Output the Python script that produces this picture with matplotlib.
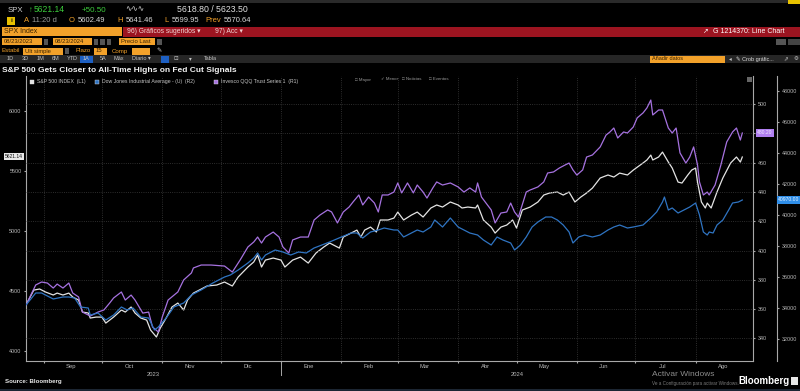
import datetime as dt

import matplotlib
matplotlib.use("Agg")
import matplotlib.dates as mdates
import matplotlib.pyplot as plt
import pandas as pd
from matplotlib.lines import Line2D
from matplotlib.patches import Rectangle
from matplotlib.ticker import FuncFormatter, NullFormatter

plt.rcParams["font.family"] = ["Liberation Sans", "DejaVu Sans"]

# --- data -------------------------------------------------------------------
SPX_DATES = [
    "2023-08-23", "2023-08-27", "2023-08-30", "2023-09-02", "2023-09-06", "2023-09-08",
    "2023-09-11", "2023-09-14", "2023-09-16", "2023-09-19", "2023-09-21", "2023-09-24",
    "2023-09-25", "2023-09-28", "2023-10-01", "2023-10-03", "2023-10-05", "2023-10-07",
    "2023-10-11", "2023-10-13", "2023-10-16", "2023-10-18", "2023-10-21", "2023-10-24",
    "2023-10-26", "2023-10-29", "2023-10-31", "2023-11-03", "2023-11-06", "2023-11-09",
    "2023-11-12", "2023-11-14", "2023-11-17", "2023-11-20", "2023-11-24", "2023-11-29",
    "2023-12-03", "2023-12-07", "2023-12-10", "2023-12-15", "2023-12-18", "2023-12-20",
    "2023-12-22", "2023-12-24", "2023-12-28", "2024-01-01", "2024-01-03", "2024-01-07",
    "2024-01-11", "2024-01-15", "2024-01-19", "2024-01-23", "2024-01-26", "2024-01-31",
    "2024-02-02", "2024-02-06", "2024-02-09", "2024-02-11", "2024-02-13", "2024-02-16",
    "2024-02-19", "2024-02-21", "2024-02-25", "2024-02-28", "2024-03-01", "2024-03-04",
    "2024-03-08", "2024-03-11", "2024-03-14", "2024-03-18", "2024-03-21", "2024-03-24",
    "2024-03-28", "2024-04-01", "2024-04-03", "2024-04-06", "2024-04-10", "2024-04-11",
    "2024-04-14", "2024-04-18", "2024-04-20", "2024-04-23", "2024-04-26", "2024-04-29",
    "2024-05-01", "2024-05-04", "2024-05-08", "2024-05-12", "2024-05-15", "2024-05-18",
    "2024-05-22", "2024-05-25", "2024-05-28", "2024-05-31", "2024-06-03", "2024-06-06",
    "2024-06-09", "2024-06-13", "2024-06-17", "2024-06-20", "2024-06-23", "2024-06-27",
    "2024-06-30", "2024-07-05", "2024-07-07", "2024-07-09", "2024-07-10", "2024-07-13",
    "2024-07-15", "2024-07-18", "2024-07-20", "2024-07-23", "2024-07-25", "2024-07-28",
    "2024-07-30", "2024-08-01", "2024-08-02", "2024-08-04", "2024-08-06", "2024-08-07",
    "2024-08-09", "2024-08-12", "2024-08-15", "2024-08-19", "2024-08-22", "2024-08-24",
    "2024-08-25",
]
SPX = [
    4383, 4508, 4517, 4492, 4467, 4483, 4467, 4483, 4450, 4425, 4325, 4317,
    4275, 4283, 4283, 4233, 4258, 4283, 4342, 4325, 4367, 4317, 4275, 4258,
    4175, 4117, 4192, 4275, 4367, 4400, 4342, 4425, 4483, 4508, 4542, 4550,
    4575, 4542, 4617, 4700, 4742, 4800, 4700, 4758, 4775, 4758, 4700, 4758,
    4783, 4733, 4817, 4867, 4900, 4858, 4950, 4983, 5008, 4950, 5008, 5033,
    4992, 5092, 5092, 5108, 5158, 5092, 5133, 5158, 5117, 5192, 5217, 5200,
    5242, 5217, 5192, 5200, 5192, 5217, 5092, 5033, 4983, 5033, 5050, 5092,
    5025, 5175, 5200, 5242, 5300, 5317, 5325, 5300, 5325, 5242, 5283, 5317,
    5358, 5442, 5467, 5450, 5483, 5467, 5508, 5567, 5592, 5633, 5592, 5617,
    5658, 5575, 5525, 5408, 5400, 5467, 5508, 5525, 5408, 5242, 5192, 5233,
    5192, 5325, 5442, 5567, 5617, 5575, 5617,
]

QQQ_DATES = [
    "2023-08-23", "2023-08-28", "2023-08-31", "2023-09-03", "2023-09-06", "2023-09-08",
    "2023-09-11", "2023-09-14", "2023-09-16", "2023-09-19", "2023-09-21", "2023-09-25",
    "2023-09-29", "2023-10-02", "2023-10-05", "2023-10-07", "2023-10-11", "2023-10-13",
    "2023-10-16", "2023-10-18", "2023-10-22", "2023-10-25", "2023-10-27", "2023-10-30",
    "2023-11-01", "2023-11-04", "2023-11-09", "2023-11-12", "2023-11-16", "2023-11-17",
    "2023-11-21", "2023-11-26", "2023-12-03", "2023-12-07", "2023-12-11", "2023-12-15",
    "2023-12-18", "2023-12-20", "2023-12-22", "2023-12-24", "2023-12-28", "2023-12-31",
    "2024-01-02", "2024-01-05", "2024-01-07", "2024-01-11", "2024-01-15", "2024-01-18",
    "2024-01-21", "2024-01-25", "2024-01-27", "2024-01-30", "2024-02-02", "2024-02-05",
    "2024-02-07", "2024-02-10", "2024-02-12", "2024-02-15", "2024-02-18", "2024-02-20",
    "2024-02-22", "2024-02-25", "2024-02-28", "2024-03-01", "2024-03-03", "2024-03-06",
    "2024-03-09", "2024-03-11", "2024-03-14", "2024-03-16", "2024-03-19", "2024-03-21",
    "2024-03-24", "2024-03-28", "2024-04-01", "2024-04-04", "2024-04-07", "2024-04-10",
    "2024-04-11", "2024-04-13", "2024-04-18", "2024-04-20", "2024-04-23", "2024-04-26",
    "2024-04-28", "2024-04-30", "2024-05-02", "2024-05-06", "2024-05-08", "2024-05-12",
    "2024-05-15", "2024-05-17", "2024-05-20", "2024-05-23", "2024-05-26", "2024-05-28",
    "2024-05-30", "2024-06-01", "2024-06-04", "2024-06-06", "2024-06-09", "2024-06-13",
    "2024-06-16", "2024-06-18", "2024-06-20", "2024-06-22", "2024-06-25", "2024-06-27",
    "2024-06-30", "2024-07-02", "2024-07-05", "2024-07-07", "2024-07-09", "2024-07-10",
    "2024-07-13", "2024-07-15", "2024-07-18", "2024-07-20", "2024-07-22", "2024-07-24",
    "2024-07-27", "2024-07-29", "2024-07-31", "2024-08-02", "2024-08-03", "2024-08-05",
    "2024-08-07", "2024-08-08", "2024-08-11", "2024-08-14", "2024-08-17", "2024-08-20",
    "2024-08-22", "2024-08-24", "2024-08-25",
]
QQQ = [
    362.8, 376.5, 378.5, 377.8, 374.4, 377.1, 374.4, 377.8, 371.0, 368.3, 358.0, 355.3,
    358.0, 359.4, 364.2, 367.6, 371.7, 366.2, 369.6, 366.2, 357.3, 358.0, 347.8, 344.4,
    354.6, 366.2, 371.7, 379.9, 384.7, 388.1, 390.1, 390.1, 389.4, 385.3, 393.5, 402.4,
    405.8, 409.2, 405.1, 409.2, 412.6, 409.2, 402.4, 398.3, 407.2, 409.2, 409.2, 420.8,
    424.2, 427.7, 426.3, 418.8, 426.3, 429.7, 433.1, 437.9, 431.1, 436.5, 432.4, 426.3,
    437.9, 437.9, 439.9, 446.1, 439.3, 446.1, 439.3, 444.7, 439.9, 435.8, 442.7, 446.8,
    444.7, 446.1, 443.4, 439.9, 442.7, 439.9, 446.1, 436.5, 427.7, 418.8, 425.6, 426.3,
    432.4, 426.3, 422.9, 439.9, 441.3, 443.4, 446.8, 452.9, 453.6, 456.3, 458.4, 459.7,
    455.0, 451.5, 455.0, 463.8, 465.2, 470.7, 478.8, 480.9, 483.6, 476.8, 480.9, 480.2,
    484.3, 490.5, 493.9, 497.3, 502.7, 492.5, 495.9, 495.9, 483.6, 480.2, 483.6, 466.6,
    459.7, 463.8, 470.7, 458.4, 446.8, 437.9, 439.9, 437.9, 444.7, 458.4, 474.1, 480.9,
    483.6, 475.4, 480.2,
]

DJI_DATES = [
    "2023-08-23", "2023-08-28", "2023-08-31", "2023-09-03", "2023-09-06", "2023-09-11",
    "2023-09-14", "2023-09-17", "2023-09-20", "2023-09-24", "2023-09-25", "2023-09-29",
    "2023-10-03", "2023-10-07", "2023-10-11", "2023-10-14", "2023-10-17", "2023-10-21",
    "2023-10-25", "2023-10-28", "2023-10-30", "2023-11-03", "2023-11-07", "2023-11-12",
    "2023-11-16", "2023-11-21", "2023-11-27", "2023-12-03", "2023-12-06", "2023-12-10",
    "2023-12-15", "2023-12-18", "2023-12-20", "2023-12-22", "2023-12-24", "2023-12-29",
    "2024-01-02", "2024-01-06", "2024-01-10", "2024-01-14", "2024-01-18", "2024-01-22",
    "2024-01-26", "2024-02-01", "2024-02-06", "2024-02-09", "2024-02-12", "2024-02-16",
    "2024-02-20", "2024-02-23", "2024-02-28", "2024-03-01", "2024-03-04", "2024-03-08",
    "2024-03-11", "2024-03-14", "2024-03-18", "2024-03-20", "2024-03-24", "2024-03-28",
    "2024-04-01", "2024-04-04", "2024-04-07", "2024-04-11", "2024-04-14", "2024-04-18",
    "2024-04-21", "2024-04-24", "2024-04-28", "2024-04-30", "2024-05-03", "2024-05-06",
    "2024-05-09", "2024-05-12", "2024-05-16", "2024-05-19", "2024-05-22", "2024-05-25",
    "2024-05-28", "2024-05-30", "2024-06-02", "2024-06-05", "2024-06-09", "2024-06-13",
    "2024-06-17", "2024-06-20", "2024-06-23", "2024-06-27", "2024-06-30", "2024-07-05",
    "2024-07-09", "2024-07-12", "2024-07-15", "2024-07-16", "2024-07-18", "2024-07-20",
    "2024-07-23", "2024-07-26", "2024-07-29", "2024-08-01", "2024-08-03", "2024-08-05",
    "2024-08-07", "2024-08-08", "2024-08-10", "2024-08-12", "2024-08-15", "2024-08-18",
    "2024-08-20", "2024-08-23", "2024-08-25",
]
DJI = [
    34177, 34953, 34953, 34759, 34565, 34694, 34694, 34629, 34047, 33982, 33529, 33659,
    33206, 33529, 34047, 33853, 33982, 33400, 33335, 32559, 32753, 33335, 34047, 34306,
    34823, 35147, 35600, 35988, 36117, 36441, 36894, 37217, 37541, 37088, 37411, 37735,
    37606, 37411, 37606, 37541, 37864, 38058, 38253, 38576, 38835, 38835, 38511, 38900,
    39029, 39158, 39029, 39029, 38576, 38835, 39029, 38900, 39223, 39676, 39223, 39805,
    39223, 39029, 38835, 38705, 38382, 38058, 38576, 38382, 38188, 37735, 38058, 38576,
    39223, 39547, 39870, 39870, 39676, 39352, 38900, 38188, 38576, 38705, 38576, 38705,
    39029, 39223, 39352, 39158, 39223, 39352, 39805, 40194, 40841, 41164, 40323, 40452,
    40129, 40323, 40517, 40776, 40000, 38900, 38705, 38900, 38835, 39352, 39676, 40323,
    40776, 40841, 40970,
]

LAST_SPX = 5621.14
MONTHS_ES = ["Ene", "Feb", "Mar", "Abr", "May", "Jun", "Jul", "Ago", "Sep", "Oct", "Nov", "Dic"]
SPX_TICKS = [4000, 4500, 5000, 5500, 6000]
QQQ_TICKS = [340, 360, 380, 400, 420, 440, 460, 480, 500]
DJI_TICKS = [32000, 34000, 36000, 38000, 40000, 42000, 44000, 46000, 48000]

# --- colours ------------------------------------------------------------------
C_SPX, C_DJI, C_QQQ = "#e4e4e4", "#2f74c2", "#a672e0"
ORANGE, DARK, GREEN, TXT = "#f2a12a", "#3a2200", "#3ccc3c", "#b8b8b8"
AX_COL = "#a8a8a8"

fig = plt.figure(figsize=(8, 3.91), dpi=100, facecolor="black")
W, H = 800, 391
ax = fig.add_axes([26 / W, 1 - 361 / H, (753 - 26) / W, (361 - 76) / H], facecolor="black")
ax_q = ax.twinx()
ax_d = ax.twinx()

ax.plot(pd.to_datetime(SPX_DATES), SPX, color=C_SPX, lw=0.9, zorder=3)
ax_q.plot(pd.to_datetime(QQQ_DATES), QQQ, color=C_QQQ, lw=0.9, zorder=3)
ax_d.plot(pd.to_datetime(DJI_DATES), DJI, color=C_DJI, lw=0.9, zorder=3)

ax.set_xlim(dt.datetime(2023, 8, 23), dt.datetime(2024, 8, 30, 12))
ax.set_ylim(3917, 6292)
ax_q.set_ylim(324.6, 519.1)
ax_d.set_ylim(30553, 48993)

for a in (ax, ax_q, ax_d):
    for s in a.spines.values():
        s.set_visible(False)
        s.set_color(AX_COL)
        s.set_linewidth(0.8)
ax.spines["left"].set_visible(True)
ax.spines["bottom"].set_visible(True)
ax_q.spines["right"].set_visible(True)
ax_d.spines["right"].set_visible(True)
ax_d.spines["right"].set_position(("outward", 17.3))

ax.set_yticks(SPX_TICKS)
ax_q.set_yticks(QQQ_TICKS)
# the 480 label sits under the last-price tag, as on the terminal
ax_q.set_yticklabels(["" if t == 480 else str(t) for t in QQQ_TICKS])
ax_d.set_yticks(DJI_TICKS)
for a in (ax, ax_q, ax_d):
    a.tick_params(axis="y", length=1.6, width=0.8, color=AX_COL, labelsize=3.9,
                  labelcolor=TXT, pad=1.6)

# x axis: month boundaries as ticks / grid, Spanish month names mid-month
ax.xaxis.set_major_locator(mdates.MonthLocator())
ax.xaxis.set_major_formatter(NullFormatter())
ax.xaxis.set_minor_locator(mdates.MonthLocator(bymonthday=15))
ax.xaxis.set_minor_formatter(
    FuncFormatter(lambda v, p: MONTHS_ES[mdates.num2date(v).month - 1]))
ax.tick_params(axis="x", which="major", length=1.6, width=0.8, color=AX_COL)
ax.tick_params(axis="x", which="minor", length=0, labelsize=4.2, labelcolor=TXT, pad=2.2)
ax.grid(axis="x", which="major", color="#3c3c3c", lw=0.6, ls=":")
ax_q.grid(axis="y", color="#3c3c3c", lw=0.6, ls=":")
ax_q.set_axisbelow(True)

x0, x1 = ax.get_xlim()
jan = mdates.date2num(dt.datetime(2024, 1, 1))
xt = ax.get_xaxis_transform()
ax.text((x0 + jan) / 2, -0.04, "2023", transform=xt, ha="center", va="top",
        fontsize=4.2, color=TXT)
ax.text((jan + x1) / 2, -0.04, "2024", transform=xt, ha="center", va="top",
        fontsize=4.2, color=TXT)
ax.add_line(Line2D([jan, jan], [0, -0.05], transform=xt, color=AX_COL, lw=0.7,
                   clip_on=False))

# last-value tags
ax.text(-0.0165, LAST_SPX, f"{LAST_SPX:.2f}", transform=ax.get_yaxis_transform(),
        ha="center", va="center", fontsize=3.6, color="#111111", clip_on=False,
        bbox=dict(boxstyle="square,pad=0.25", fc="#e8e8e8", ec="none"))
ax_q.text(1.0165, QQQ[-1], f"{QQQ[-1]:.2f}", transform=ax_q.get_yaxis_transform(),
          ha="center", va="center", fontsize=3.6, color="#f4ecff", clip_on=False, zorder=6,
          bbox=dict(boxstyle="square,pad=0.25", fc="#b07ff0", ec="none"))
ax_d.text(1.0495, DJI[-1], f"{DJI[-1]:.2f}", transform=ax_d.get_yaxis_transform(),
          ha="center", va="center", fontsize=3.6, color="#eaf4ff", clip_on=False, zorder=6,
          bbox=dict(boxstyle="square,pad=0.25", fc="#2f8ee8", ec="none"))

# --- terminal chrome drawn in pixel coordinates ------------------------------
ui = fig.add_axes([0, 0, 1, 1], zorder=10)
ui.patch.set_alpha(0)
ui.set_xlim(0, W)
ui.set_ylim(H, 0)
ui.axis("off")


def box(xa, ya, xb, yb, color):
    ui.add_patch(Rectangle((xa, ya), xb - xa, yb - ya, color=color, lw=0, zorder=1))


def txt(x, y, s, color="#d8d8d8", size=5.5, weight="normal", ha="left"):
    ui.text(x, y, s, color=color, fontsize=size, fontweight=weight, ha=ha,
            va="center", zorder=3)


box(0, 0, 800, 2.5, "#2a2a2a")
box(788, 0, 800, 3.5, "#e8c200")

# row 1
txt(8, 10, "SPX", "#d0d0d0", 5.6)
txt(29, 10, "↑", GREEN, 5.6)
txt(34, 10, "5621.14", GREEN, 6.2)
txt(82, 10, "+50.50", GREEN, 5.8)
txt(125, 9.5, "∿∿∿", "#d8d8d8", 5.5)
txt(177, 10, "5618.80 / 5623.50", "#e0e0e0", 6.3)

# row 2
box(7, 17, 15, 25, "#e8c000")
txt(11, 21, "i", "#111111", 4.6, "bold", "center")
txt(24, 21, "A", ORANGE)
txt(32, 21, "11:20 d", "#9a9a9a")
for lx, lab, vx, val in [(69, "O", 78, "5602.49"), (117, "H", 126, "5641.46"),
                         (164, "L", 172, "5599.95"), (205, "Prev", 224, "5570.64")]:
    txt(lx, 21, lab, ORANGE)
    txt(vx, 21, val, "#d8d8d8")

# row 3
box(2, 26.5, 122, 36, ORANGE)
txt(4, 31.3, "SPX Index", DARK, 5.0)
box(123, 26.5, 800, 36.5, "#9c1420")
txt(127, 31.3, "96) Gráficos sugeridos ▾", "#f2d4d4", 4.9)
txt(215, 31.3, "97) Acc ▾", "#f2d4d4", 4.9)
txt(702, 31.3, "↗", "#ffffff", 4.9)
txt(713, 31.3, "G 1214370: Line Chart", "#ffffff", 5.0)

# row 4
for xa, xb, lab in [(2, 42, "08/23/2023"), (53, 92, "08/23/2024"), (119, 155, "Precio Last")]:
    box(xa, 38, xb, 45, ORANGE)
    txt(xa + 2, 41.6, lab, DARK, 4.2)
for xa in (43.5, 93.5, 100, 106.5, 157):
    box(xa, 38.5, xa + 4.5, 44.5, "#555555")
box(776, 38.5, 786, 44.5, "#555555")
box(788, 38.5, 800, 44.5, "#444444")

# row 5
txt(2, 51, "Estabil", ORANGE, 4.4)
box(23, 47.5, 63, 54.5, ORANGE)
txt(25, 51, "Ult simple", DARK, 4.2)
box(64.5, 48, 69, 54, "#555555")
txt(75, 51, "Plazo", ORANGE, 4.4)
box(94, 47.5, 107, 54.5, ORANGE)
txt(96, 51, "15", DARK, 4.2)
txt(112, 51, "Comp", ORANGE, 4.4)
box(132, 47.5, 150, 54.5, ORANGE)
txt(156, 51, "✎", "#cccccc", 4.6)

# row 6
box(0, 55, 800, 63, "#262626")
box(80, 55.5, 93, 62.5, "#1d5fc2")
box(161, 55.5, 169, 62.5, "#1d5fc2")
for bx, lab in [(7, "1D"), (22, "3D"), (37, "1M"), (52, "6M"), (67, "YTD"), (83, "1A"),
                (100, "5A"), (113, "Máx"), (132, "Diario ▾"), (174, "⊡"), (189, "▾"),
                (204, "Tabla")]:
    txt(bx, 59, lab, "#c4c4c4", 4.0)
box(650, 55.5, 725, 62.5, ORANGE)
txt(652, 59, "Añadir datos", DARK, 4.0)
txt(729, 59, "◂", "#c4c4c4", 4.0)
txt(736, 59, "✎ Crob gráfic...", "#dddddd", 4.0)
txt(783, 59, "⇗", "#c4c4c4", 4.0)
txt(794, 59, "⚙", "#c4c4c4", 4.0)

# title
txt(2, 70, "S&P 500 Gets Closer to All-Time Highs on Fed Cut Signals", "#f2f2f2", 6.0, "bold")

# legend
for sx, col, lab in [(30, C_SPX, "S&P 500 INDEX  (L1)"),
                     (95, C_DJI, "Dow Jones Industrial Average - (U)  (R2)"),
                     (214, C_QQQ, "Invesco QQQ Trust Series 1  (R1)")]:
    ui.add_patch(Rectangle((sx, 80), 4, 4, fc=col, ec="#dddddd", lw=0.3, zorder=2))
    txt(sx + 7, 82, lab, "#c8c8c8", 3.7)
for tx, lab in [(355, "□ Mayor"), (381, "✓ Menor"), (402, "□ Noticias"), (429, "□ Eventos")]:
    txt(tx, 79.5, lab, "#9a9a9a", 3.2)
box(747, 77, 752, 82, "#666666")

# footer
txt(5, 382, "Source: Bloomberg", "#e8e8e8", 4.4, "bold")
txt(652, 374, "Activar Windows", "#8c8c8c", 6.0)
txt(652, 384, "Ve a Configuración para activar Windows.", "#7a7a7a", 3.3)
txt(738, 381, "Bloomberg", "#ffffff", 7.0, "bold")
box(791, 377, 798, 385, "#e8e8e8")
box(0, 389, 800, 391, "#1c2633")

fig.savefig("out.png", dpi=100, facecolor="black")
